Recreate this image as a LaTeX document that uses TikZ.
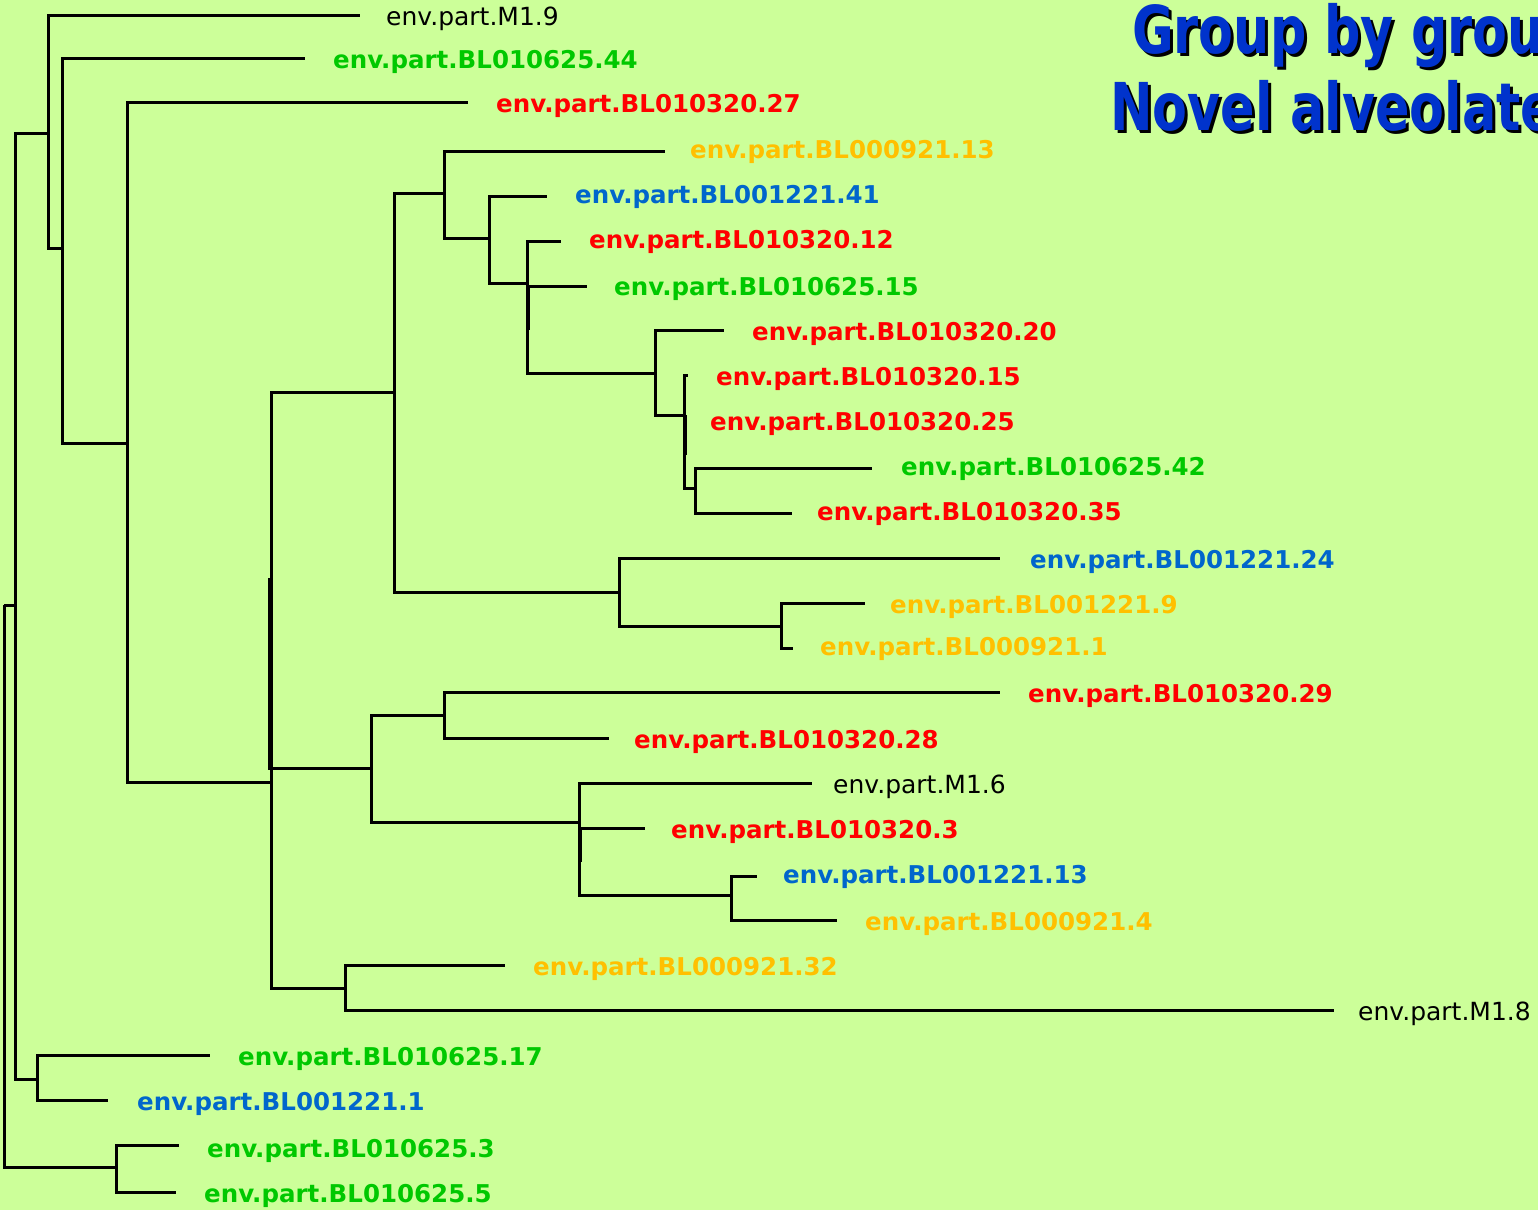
\documentclass[tikz,border=0pt]{standalone}
\usepackage{fontspec}
\setmainfont{DejaVu Sans}
\usepackage{graphicx}
\definecolor{bgc}{HTML}{CCFF99}
\definecolor{tgreen}{HTML}{00C800}
\definecolor{tred}{HTML}{FF0000}
\definecolor{torange}{HTML}{FFC000}
\definecolor{tblue}{HTML}{0066CC}
\definecolor{ttitle}{HTML}{0033CC}
\tikzset{
  branch/.style={line width=3pt, draw=black},
  lab/.style={anchor=base west, inner sep=0pt, font=\fontsize{24.5}{26}\selectfont\bfseries},
  gl/.style={lab, text=tgreen},
  rl/.style={lab, text=tred},
  ol/.style={lab, text=torange},
  bl/.style={lab, text=tblue},
  kl/.style={anchor=base west, inner sep=0pt, font=\fontsize{25}{27}\selectfont, text=black},
  heading/.style={anchor=base west, inner sep=0pt, font=\fontsize{66}{70}\selectfont\bfseries, text=ttitle},
  headshadow/.style={heading, text=black}
}
\begin{document}
\begin{tikzpicture}[x=1pt,y=-1pt]
\useasboundingbox (0,0) rectangle (1538,1210);
\fill[bgc] (0,0) rectangle (1538,1210);
\clip (0,0) rectangle (1538,1210);

% heading (runs past the right edge)
\node[headshadow] at (1135,56) {\scalebox{0.77}[1]{Group by grou}};
\node[heading] (h1) at (1132,53) {\scalebox{0.77}[1]{Group by grou}};
\node[headshadow] at (1113,133) {\scalebox{0.77}[1]{Novel alveolate}};
\node[heading] (h2) at (1110,130) {\scalebox{0.77}[1]{Novel alveolate}};

% internal nodes of the tree
\coordinate (r)    at (4,605);
\coordinate (n15)  at (15,605);
\coordinate (n48)  at (48,133);
\coordinate (n62)  at (62,248);
\coordinate (n127) at (127,443);
\coordinate (n270) at (271,782);
\coordinate (n394) at (394,392);
\coordinate (n444a) at (444,193);
\coordinate (n489) at (489,238);
\coordinate (n527) at (527,283);
\coordinate (n655) at (655,373);
\coordinate (n684) at (684,415);
\coordinate (n695) at (695,488);
\coordinate (n619) at (619,592);
\coordinate (n781) at (781,626);
\coordinate (n371) at (371,768);
\coordinate (n444b) at (444,715);
\coordinate (n579) at (579,822);
\coordinate (n731) at (731,895);
\coordinate (n345) at (345,988);
\coordinate (n37)  at (37,1079);
\coordinate (n116) at (116,1167);

% branch tips
\coordinate (tM19)  at (360,15);
\coordinate (t5_44) at (305,58);
\coordinate (t3_27) at (468,102);
\coordinate (t0_13) at (665,151);
\coordinate (t1_41) at (547,196);
\coordinate (t3_12) at (561,241);
\coordinate (t5_15) at (587,286);
\coordinate (t3_20) at (724,330);
\coordinate (t3_15) at (688,375);
\coordinate (t3_25) at (684,420);
\coordinate (t5_42) at (872,468);
\coordinate (t3_35) at (792,513);
\coordinate (t1_24) at (1000,558);
\coordinate (t1_9)  at (865,603);
\coordinate (t0_1)  at (793,648);
\coordinate (t3_29) at (1000,692);
\coordinate (t3_28) at (609,738);
\coordinate (tM16)  at (812,783);
\coordinate (t3_3)  at (645,828);
\coordinate (t1_13) at (757,876);
\coordinate (t0_4)  at (837,920);
\coordinate (t0_32) at (505,965);
\coordinate (tM18)  at (1334,1010);
\coordinate (t5_17) at (210,1055);
\coordinate (t1_1)  at (108,1100);
\coordinate (t5_3)  at (179,1145);
\coordinate (t5_5)  at (176,1192);

% leaf labels
\node[kl] (lM19)  at (386,25)   {env.part.M1.9};
\node[gl] (l5_44) at (333,68)   {env.part.BL010625.44};
\node[rl] (l3_27) at (496,112)  {env.part.BL010320.27};
\node[ol] (l0_13) at (690,158)  {env.part.BL000921.13};
\node[bl] (l1_41) at (575,203)  {env.part.BL001221.41};
\node[rl] (l3_12) at (589,248)  {env.part.BL010320.12};
\node[gl] (l5_15) at (614,295)  {env.part.BL010625.15};
\node[rl] (l3_20) at (752,340)  {env.part.BL010320.20};
\node[rl] (l3_15) at (716,385)  {env.part.BL010320.15};
\node[rl] (l3_25) at (710,430)  {env.part.BL010320.25};
\node[gl] (l5_42) at (901,475)  {env.part.BL010625.42};
\node[rl] (l3_35) at (817,520)  {env.part.BL010320.35};
\node[bl] (l1_24) at (1030,568) {env.part.BL001221.24};
\node[ol] (l1_9)  at (890,613)  {env.part.BL001221.9};
\node[ol] (l0_1)  at (820,655)  {env.part.BL000921.1};
\node[rl] (l3_29) at (1028,702) {env.part.BL010320.29};
\node[rl] (l3_28) at (634,748)  {env.part.BL010320.28};
\node[kl] (lM16)  at (833,793)  {env.part.M1.6};
\node[rl] (l3_3)  at (671,838)  {env.part.BL010320.3};
\node[bl] (l1_13) at (783,883)  {env.part.BL001221.13};
\node[ol] (l0_4)  at (865,930)  {env.part.BL000921.4};
\node[ol] (l0_32) at (533,975)  {env.part.BL000921.32};
\node[kl] (lM18)  at (1358,1020) {env.part.M1.8};
\node[gl] (l5_17) at (238,1065) {env.part.BL010625.17};
\node[bl] (l1_1)  at (137,1110) {env.part.BL001221.1};
\node[gl] (l5_3)  at (207,1157) {env.part.BL010625.3};
\node[gl] (l5_5)  at (204,1202) {env.part.BL010625.5};

% branches: each parent joined to its children by an elbow
\draw[branch] (r) |- (n15)  (r) |- (n116);
\draw[branch] (n15) |- (n48)  (n15) |- (n37);
\draw[branch] (n48) |- (tM19)  (n48) |- (n62);
\draw[branch] (n62) |- (t5_44)  (n62) |- (n127);
\draw[branch] (n127) |- (t3_27)  (n127) |- (n270);
\draw[branch] (n270) |- (n394)  (n270) |- (n371)  (n270) |- (n345);
\draw[branch] (n394) |- (n444a)  (n394) |- (n619);
\draw[branch] (n444a) |- (t0_13)  (n444a) |- (n489);
\draw[branch] (n489) |- (t1_41)  (n489) |- (n527);
\draw[branch] (n527) |- (t3_12)  (n527) |- (t5_15)  (n527) |- (n655);
\draw[branch] (n655) |- (t3_20)  (n655) |- (n684);
\draw[branch] (n684) |- (t3_15)  (n684) |- (t3_25)  (n684) |- (n695);
\draw[branch] (n695) |- (t5_42)  (n695) |- (t3_35);
\draw[branch] (n619) |- (t1_24)  (n619) |- (n781);
\draw[branch] (n781) |- (t1_9)  (n781) |- (t0_1);
\draw[branch] (n371) |- (n444b)  (n371) |- (n579);
\draw[branch] (n444b) |- (t3_29)  (n444b) |- (t3_28);
\draw[branch] (n579) |- (tM16)  (n579) |- (t3_3)  (n579) |- (n731);
\draw[branch] (n731) |- (t1_13)  (n731) |- (t0_4);
\draw[branch] (n345) |- (t0_32)  (n345) |- (tM18);
\draw[branch] (n37) |- (t5_17)  (n37) |- (t1_1);
\draw[branch] (n116) |- (t5_3)  (n116) |- (t5_5);

% doubled stretches of some vertical lines
\draw[branch] ([xshift=1.5pt]n527 |- t5_15) -- ([xshift=1.5pt]n527 |- t3_20);
\draw[branch] ([xshift=1.5pt]n684) -- ([xshift=1.5pt,yshift=-40pt]n684);
\draw[branch] ([xshift=1.5pt]n579 |- t3_3) -- ([xshift=1.5pt,yshift=-34pt]n579 |- t3_3);
\draw[branch] ([xshift=-1.5pt,yshift=204pt]n270) -- ([xshift=-1.5pt,yshift=12pt]n270);
\end{tikzpicture}
\end{document}
